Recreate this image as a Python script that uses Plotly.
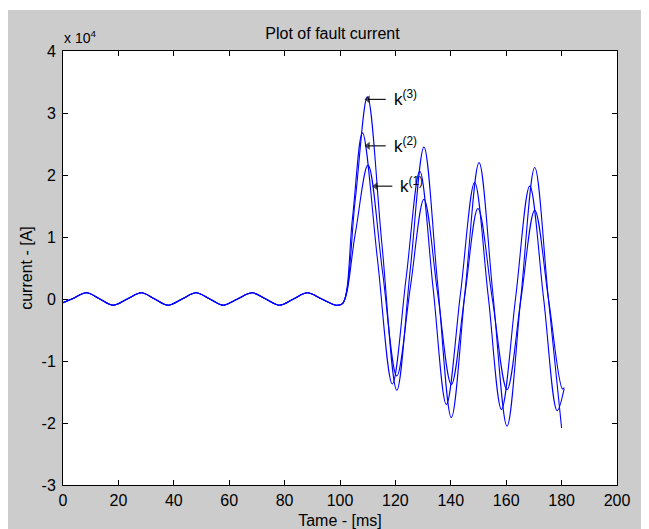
import plotly.graph_objects as go

# ---- data (current in A, time in ms) ----
t_pre = [0, 3.2, 8.5, 13.3, 18.1, 23.2, 28.3, 33.1, 37.9, 43.0, 48.0, 53.0,
         57.8, 63.0, 68.3, 73.2, 78.2, 83.2, 88.2, 93.4, 98.7]
i_pre = [-600, 0, 1000, 0, -1000, 0, 1000, 0, -1000, 0, 1000, 0,
         -1000, 0, 1000, 0, -1000, 0, 1000, 0, -1000]

t_k3 = [101, 105.5, 109.9, 115.1, 120.5, 125.4, 130.3, 135.2, 140.2, 145.2,
        150.2, 155.2, 160.3, 165.3, 170.3, 175.2, 180.0]
i_k3 = [-700, 16000, 32600, 9000, -14700, 4900, 24500, 2700, -19100, 1500,
        22000, 800, -20500, 300, 21200, 200, -20800]

t_k2 = [101, 104.5, 108.1, 113.5, 118.9, 123.9, 128.8, 133.6, 138.4, 143.5,
        148.6, 153.5, 158.3, 163.4, 168.5, 173.5, 178.4, 180.9]
i_k2 = [-700, 13000, 26800, 6500, -13700, 3500, 20600, 1800, -17000, 900,
        18800, 500, -17800, 200, 18200, 100, -18000, -14500]

t_k1 = [101, 105.5, 110.1, 115.3, 120.5, 125.4, 130.3, 135.2, 140.2, 145.0,
        149.8, 155.0, 160.3, 165.3, 170.3, 175.3, 180.3, 181.0]
i_k1 = [-700, 10500, 21600, 4600, -12400, 1900, 16100, 1100, -13800, 400,
        14600, 0, -14600, -100, 14300, -100, -14500, -14300]

x_ticks = [0, 20, 40, 60, 80, 100, 120, 140, 160, 180, 200]
y_ticks = [-30000, -20000, -10000, 0, 10000, 20000, 30000, 40000]
y_ticktext = ["-3", "-2", "-1", "0", "1", "2", "3", "4"]

labels = ["k<sup>(3)</sup>", "k<sup>(2)</sup>", "k<sup>(1)</sup>"]
arrow_tip_t = [110.1, 110.1, 112.9]
arrow_tail_t = [116.5, 116.5, 118.9]
arrow_i = [32200, 24700, 18200]
label_t = [118.6, 118.6, 120.9]
label_i = [32400, 24800, 18400]

FONT = "Liberation Sans, Arial, sans-serif"
GREY = "#cccccc"

fig = go.Figure()
for tt, ii in [(t_k1, i_k1), (t_k2, i_k2), (t_k3, i_k3)]:
    fig.add_trace(go.Scatter(
        x=t_pre + tt, y=i_pre + ii, mode="lines",
        line=dict(color="#0000ff", width=1.1, shape="spline", smoothing=1.0),
        showlegend=False, hoverinfo="skip"))

# arrows (shaft + head) pointing at the peaks
for k in range(3):
    fig.add_trace(go.Scatter(
        x=[arrow_tail_t[k], arrow_tip_t[k]], y=[arrow_i[k], arrow_i[k]],
        mode="lines+markers", line=dict(color="black", width=1.1),
        marker=dict(symbol="triangle-left", size=[0, 7], color="black",
                    line=dict(width=0)),
        showlegend=False, hoverinfo="skip"))

# page body adds an 8px offset; figure is sized for it
W, H = 649, 521
ML, MR, MT, MB = 55, 40, 43, 44
PW, PH = W - ML - MR, H - MT - MB

def px_x(p):
    return (p - ML) / PW

def px_y(p):
    return (H - MB - p) / PH

fig.update_layout(
    width=W, height=H,
    margin=dict(l=ML, r=MR, t=MT, b=MB, pad=0, autoexpand=False),
    paper_bgcolor=GREY, plot_bgcolor="white",
    font=dict(family=FONT, size=16, color="black"),
    title=dict(text="Plot of fault current", x=px_x(332), xanchor="center",
               y=1 - 25 / H, yanchor="middle", font=dict(size=16, color="black")),
    showlegend=False,
)
fig.update_xaxes(range=[0, 200], tickvals=x_ticks, ticks="inside", ticklen=5,
                 tickcolor="black", showline=True, linecolor="black", linewidth=1,
                 mirror="ticks", showgrid=False, zeroline=False, automargin=False,
                 ticklabelstandoff=1, tickfont=dict(size=16),
                 title=dict(text="Tame - [ms]", font=dict(size=16), standoff=14))
fig.update_yaxes(range=[-30000, 40000], tickvals=y_ticks, ticktext=y_ticktext,
                 ticks="inside", ticklen=5, tickcolor="black", showline=True,
                 linecolor="black", linewidth=1, mirror="ticks", showgrid=False,
                 zeroline=False, automargin=False, ticklabelstandoff=3,
                 tickfont=dict(size=16),
                 title=dict(text="current - [A]", font=dict(size=16), standoff=4))

shapes = [
    dict(type="rect", xref="paper", yref="paper", x0=px_x(-5), x1=px_x(W + 5),
         y0=px_y(2), y1=px_y(-5), fillcolor="white", line=dict(width=0), layer="below"),
]
fig.update_layout(shapes=shapes)

ann = [dict(text="x 10<sup>4</sup>", xref="paper", yref="paper", x=px_x(54), y=px_y(40),
            xanchor="left", yanchor="bottom", showarrow=False, font=dict(size=14))]
for k in range(3):
    ann.append(dict(x=label_t[k], y=label_i[k], xref="x", yref="y", text=labels[k],
                    showarrow=False, xanchor="left", yanchor="middle",
                    font=dict(size=17, color="black")))
fig.update_layout(annotations=ann)

fig.write_html("out.html")
